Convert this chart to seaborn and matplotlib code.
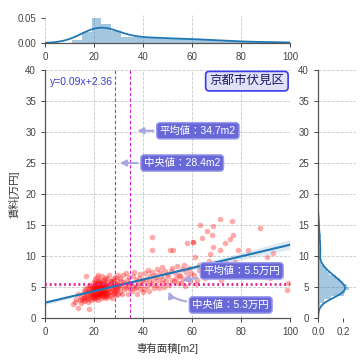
import matplotlib
matplotlib.use("Agg")
import matplotlib.pyplot as plt
import seaborn as sns
import numpy as np
import pandas as pd

# ---------------- data ----------------
area = [12.2, 13.6, 12.8, 14.1, 13.5, 14.6, 11.5, 14.8,
        15.2, 15.5, 15.8, 16.0, 16.2, 16.4, 16.7, 16.8, 17.0, 17.1, 17.3, 17.5, 17.6, 17.8, 18.0, 18.0,
        18.2, 18.4, 18.5, 18.7, 18.9, 19.0, 19.1, 19.3, 19.4, 19.6, 19.7, 19.8, 19.9, 15.9, 16.5, 17.9,
        20.0, 20.1, 20.2, 20.3, 20.4, 20.5, 20.6, 20.7, 20.8, 20.9, 21.0, 21.1, 21.2, 21.3, 21.4, 21.5,
        21.6, 21.7, 21.8, 21.9, 22.0, 22.1, 22.2, 22.3, 22.4, 22.5, 22.6, 22.7, 22.8, 22.9, 23.0, 23.1,
        23.2, 23.3, 23.4, 23.5, 23.6, 23.7, 23.8, 23.9, 24.0, 24.1, 24.2, 24.3, 24.4, 24.5, 24.6, 24.7,
        24.8, 24.9, 20.5, 21.5, 22.5, 23.5, 24.5,
        18.3, 18.8, 19.2, 19.5, 20.1, 20.4, 20.7, 21.0, 21.2, 21.4, 21.7, 21.9, 22.1, 22.3, 22.6, 22.8,
        23.0, 23.3, 23.6, 23.8, 24.1, 24.4, 24.7, 19.9, 20.9, 22.0,
        25.0, 25.2, 25.3, 25.5, 25.6, 25.8, 25.9, 26.1, 26.2, 26.4, 26.5, 26.7, 26.8, 27.0, 27.1, 27.3,
        27.4, 27.6, 27.7, 27.9, 28.0, 28.2, 28.3, 28.5, 28.6, 28.8, 28.9, 29.1, 29.2, 29.4, 29.5, 29.7,
        29.8, 29.9, 25.4, 26.9, 28.1, 29.3,
        30.2, 30.5, 30.8, 31.1, 31.4, 31.7, 32.0, 32.3, 32.6, 32.9, 33.2, 33.5, 33.8, 34.1, 34.4, 34.7,
        30.9, 33.9,
        35.1, 35.4, 35.8, 36.1, 36.5, 36.8, 37.2, 37.5, 37.9, 38.2, 38.6, 38.9, 39.3, 39.6, 39.9, 37.0,
        40.2, 40.5, 40.9, 41.2, 41.6, 41.9, 42.3, 42.6, 42.9, 43.3, 43.5, 43.5, 43.8, 44.2, 44.5, 44.8,
        45.2, 45.5, 45.9, 46.2, 46.6, 46.9, 47.3, 47.6, 47.9, 48.3, 48.6, 49.0, 49.3, 49.7,
        50.2, 50.6, 51.0, 51.3, 51.7, 52.0, 52.4, 52.7, 53.1, 53.5, 53.8, 54.2, 54.6,
        55.0, 55.4, 55.8, 56.2, 56.6, 57.0, 57.4, 57.8, 58.2, 58.6, 59.0, 59.5,
        60.3, 60.5, 60.8, 61.4, 62.0, 62.7, 63.3, 64.0, 64.5,
        66.0, 66.8, 68.0, 68.6, 68.7, 69.3, 67.4,
        71.4, 71.4, 72.5, 73.5, 75.5, 76.2, 76.9, 78.9, 77.5,
        83.0, 84.4, 87.8, 90.5, 93.0, 98.6, 99.0,
        61.5, 63.0, 65.5, 67.0, 70.0, 72.0, 74.0, 79.0, 81.0, 85.5, 92.0, 95.5]

rent = [2.6, 1.6, 3.1, 2.9, 3.8, 2.4, 2.2, 3.4,
        3.1, 3.9, 2.7, 4.4, 3.5, 2.9, 6.7, 4.0, 3.3, 4.8, 3.7, 2.6, 4.2, 3.1, 1.4, 4.6,
        3.8, 5.2, 3.4, 4.1, 2.9, 4.9, 3.6, 4.4, 5.6, 3.2, 4.0, 4.7, 3.5, 3.3, 4.7, 5.4,
        4.2, 3.3, 5.1, 3.8, 6.3, 4.5, 3.0, 4.9, 3.6, 5.5, 4.1, 6.6, 3.4, 4.7, 5.3, 3.9,
        4.4, 2.9, 5.8, 4.0, 4.8, 3.5, 5.2, 6.1, 4.3, 3.7, 5.0, 4.6, 3.2, 5.6, 4.2, 6.8,
        3.9, 4.9, 5.4, 3.6, 4.5, 6.0, 4.1, 5.1, 3.4, 4.7, 5.7, 4.0, 6.4, 3.8, 4.4, 5.3,
        4.9, 3.3, 5.9, 6.9, 4.1, 5.0, 6.2,
        4.3, 3.7, 5.0, 4.2, 4.6, 3.9, 5.3, 4.4, 3.7, 5.0, 4.5, 6.0, 3.8, 4.9, 5.5, 4.2,
        5.1, 3.7, 4.7, 5.4, 4.3, 5.0, 3.6, 4.8, 5.7, 4.6,
        4.5, 5.6, 3.5, 6.5, 4.2, 5.1, 3.9, 4.8, 6.9, 4.4, 5.4, 3.6, 6.0, 4.9, 5.7, 4.1,
        3.3, 5.2, 6.3, 4.6, 5.0, 3.8, 5.9, 4.3, 6.6, 5.3, 4.7, 3.7, 5.5, 6.2, 4.5, 5.1,
        3.9, 6.9, 4.0, 5.9, 4.2, 4.9,
        5.3, 4.2, 6.4, 5.0, 3.8, 5.8, 6.9, 4.6, 5.5, 7.3, 4.9, 6.1, 3.9, 5.6, 6.6, 4.7,
        5.9, 5.2,
        5.6, 4.3, 6.8, 5.2, 7.4, 4.8, 6.1, 3.9, 5.7, 6.5, 4.6, 7.1, 5.4, 6.2, 4.2, 5.0,
        5.9, 4.7, 7.2, 6.3, 5.1, 7.8, 6.0, 4.4, 6.8, 5.5, 13.0, 10.9, 7.5, 6.2, 4.9, 7.0,
        6.6, 5.3, 7.9, 6.1, 4.8, 7.4, 6.8, 5.6, 8.2, 6.3, 5.0, 7.6, 6.0, 7.1,
        6.7, 5.4, 10.9, 7.6, 6.2, 8.0, 11.0, 5.9, 7.3, 6.5, 8.4, 5.6, 7.0,
        6.8, 5.7, 7.9, 6.3, 8.6, 5.2, 7.4, 12.1, 6.6, 8.1, 5.9, 7.2,
        12.2, 12.3, 7.0, 9.8, 6.2, 8.5, 15.0, 12.9, 7.6,
        14.1, 9.2, 13.4, 14.8, 11.5, 6.8, 10.4,
        16.0, 11.0, 8.0, 12.1, 12.7, 15.6, 13.4, 10.9, 9.0,
        11.0, 8.6, 14.5, 9.9, 10.5, 4.5, 5.7,
        5.5, 7.8, 6.4, 8.3, 7.2, 6.1, 8.8, 7.5, 6.9, 7.8, 6.4, 8.2]

area_mean, area_median = 34.7, 28.4
rent_mean, rent_median = 5.5, 5.3
equation = "y=0.09x+2.36"
region = "京都市伏見区"
xlabel = "専有面積[m2]"
ylabel = "賃料[万円]"
x_ticks = [0, 20, 40, 60, 80, 100]
y_ticks = [0, 5, 10, 15, 20, 25, 30, 35, 40]

df = pd.DataFrame({"area": area, "rent": rent})

# ---------------- style ----------------
sns.set_style("whitegrid", {"grid.linestyle": "--", "grid.color": "#c8c8c8",
                            "axes.edgecolor": "#555555", "xtick.bottom": True,
                            "ytick.left": True})
plt.rcParams["font.family"] = ["Liberation Sans", "Noto Sans CJK JP", "DejaVu Sans"]
plt.rcParams.update({"font.size": 7, "xtick.labelsize": 7, "ytick.labelsize": 7,
                     "xtick.color": "#444444", "ytick.color": "#444444",
                     "xtick.major.size": 3, "ytick.major.size": 3,
                     "xtick.major.width": 0.7, "ytick.major.width": 0.7,
                     "grid.linewidth": 0.6, "axes.linewidth": 0.9})

blue = "#1f77b4"
fig = plt.figure(figsize=(3.6, 3.6), dpi=100)
ax = fig.add_axes([45/360, 1-318/360, 245/360, 248/360])
axt = fig.add_axes([45/360, 1-43/360, 245/360, 28/360])
axr = fig.add_axes([318/360, 1-318/360, 38/360, 248/360])

# ---------------- main ----------------
ax.set_xlim(0, 100)
ax.set_ylim(0, 40)
sns.regplot(data=df, x="area", y="rent", ax=ax, truncate=False, color=blue, ci=80,
            scatter_kws={"color": "red", "alpha": 0.33, "s": 16, "linewidths": 0},
            line_kws={"color": blue, "lw": 1.5})
ax.set_xlim(0, 100)
ax.set_ylim(0, 40)
ax.set_xticks(x_ticks)
ax.set_yticks(y_ticks)
ax.axvline(area_median, color="#d020d0", ls="--", lw=0.8, dashes=(3, 2))
ax.axvline(area_mean, color="#d020d0", ls="--", lw=0.8, dashes=(3, 2))
ax.axhline(rent_mean, color="#e8209a", ls=":", lw=1.3)
ax.axhline(rent_median, color="#e8209a", ls=":", lw=1.3)
ax.set_xlabel(xlabel, fontsize=7.5, color="#333333")
ax.set_ylabel(ylabel, fontsize=7.5, color="#333333")
for s in ["top", "right"]:
    ax.spines[s].set_visible(False)

ax.text(2, 38.1, equation, color="#3c3ccc", fontsize=7.5, va="center", ha="left")
ax.text(82.4, 38.2, region, color="#1a1a70", fontsize=9, va="center", ha="center",
        bbox=dict(boxstyle="round,pad=0.3", fc="#e2e2f6", ec="#3a3aee", lw=1.2))

box = dict(boxstyle="round,pad=0.3", fc="#6868d8", ec="#9c9cee", lw=1)
arr = dict(arrowstyle="-|>", color="#a8a8e0", lw=1.5, mutation_scale=9)
ax.annotate(f"平均値：{area_mean}m2", xy=(36.5, 30.2), xytext=(62.4, 30.2),
            ha="center", va="center", color="white", fontsize=7.5, bbox=box,
            arrowprops=arr)
ax.annotate(f"中央値：{area_median}m2", xy=(29.4, 25.0), xytext=(56.0, 25.0),
            ha="center", va="center", color="white", fontsize=7.5, bbox=box,
            arrowprops=arr)
ax.annotate(f"平均値：{rent_mean}万円", xy=(55.0, 6.0), xytext=(80.3, 7.6),
            ha="center", va="center", color="white", fontsize=7.5, bbox=box,
            arrowprops=arr)
arr2 = dict(arr, connectionstyle="angle3,angleA=0,angleB=90")
ax.annotate(f"中央値：{rent_median}万円", xy=(50.3, 4.7), xytext=(75.8, 2.1),
            ha="center", va="center", color="white", fontsize=7.5, bbox=box,
            arrowprops=arr2)

# ---------------- top marginal ----------------
sns.histplot(x=area, ax=axt, stat="density", bins=np.arange(11, 103, 4),
             color=blue, alpha=0.4, edgecolor="none", linewidth=0)
sns.kdeplot(x=area, ax=axt, color=blue, lw=1.3)
axt.set_xlim(0, 100)
axt.set_ylim(0, 0.055)
axt.set_xticks(x_ticks)
axt.set_yticks([0.0, 0.05])
axt.yaxis.set_major_formatter(matplotlib.ticker.FormatStrFormatter("%.2f"))
axt.grid(axis="y", visible=False)
axt.set_xlabel("")
axt.set_ylabel("")
for s in ["top", "right", "left"]:
    axt.spines[s].set_visible(False)

# ---------------- right marginal ----------------
sns.histplot(y=rent, ax=axr, stat="density", binwidth=0.5, binrange=(1.0, 17.0),
             color=blue, alpha=0.4, edgecolor="none", linewidth=0)
sns.kdeplot(y=rent, ax=axr, color=blue, lw=1.3)
axr.set_ylim(0, 40)
axr.set_xlim(0, 0.3)
axr.set_yticks(y_ticks)
axr.set_xticks([0.0, 0.2])
axr.xaxis.set_major_formatter(matplotlib.ticker.FormatStrFormatter("%.1f"))
axr.grid(axis="x", visible=False)
axr.set_xlabel("")
axr.set_ylabel("")
for s in ["top", "right", "bottom"]:
    axr.spines[s].set_visible(False)

fig.savefig("out.png", dpi=100)
